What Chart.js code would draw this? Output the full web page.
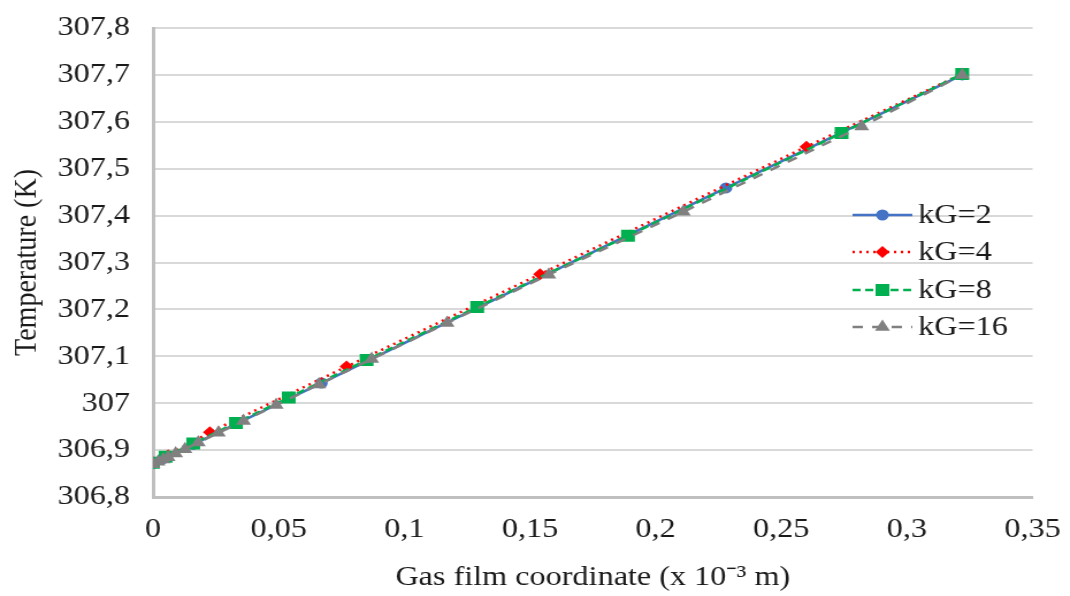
<!DOCTYPE html>
<html>
<head>
<meta charset="utf-8">
<script src="https://cdn.jsdelivr.net/npm/chart.js@4.4.1/dist/chart.umd.min.js"></script>
<style>
  html, body { margin: 0; padding: 0; background: #fff; overflow: hidden; }
  /* the chart is laid out narrow and widened, like the exported figure */
  #wrap { width: 930px; height: 596px; transform: scaleX(1.1505); transform-origin: 0 0; }
</style>
</head>
<body>
<div id="wrap"><canvas id="chart"></canvas></div>
<script>
// Temperature profile across the gas film for each kG
const LABELS = ['kG=2', 'kG=4', 'kG=8', 'kG=16'];

const X_KG2 = [0, 0.004, 0.016, 0.067, 0.228, 0.322];
const T_KG2 = [306.872, 306.882, 306.912, 307.043, 307.459, 307.700];

const X_KG4 = [0, 0.006, 0.0226, 0.077, 0.154, 0.26, 0.322];
const T_KG4 = [306.874, 306.889, 306.938, 307.078, 307.275, 307.547, 307.702];

const X_KG8 = [0, 0.005, 0.016, 0.033, 0.054, 0.085, 0.129, 0.189, 0.274, 0.322];
const T_KG8 = [306.873, 306.886, 306.914, 306.958, 307.012, 307.092, 307.205, 307.357, 307.576, 307.702];

const X_KG16 = [0, 0.002, 0.004, 0.006, 0.009, 0.0127, 0.018, 0.026, 0.036, 0.049, 0.066, 0.087, 0.117, 0.1575, 0.211, 0.282, 0.322];
const T_KG16 = [306.870, 306.875, 306.880, 306.885, 306.893, 306.902, 306.916, 306.937, 306.962, 306.996, 307.040, 307.094, 307.171, 307.274, 307.408, 307.590, 307.700];

const X_MIN = 0, X_MAX = 0.35, X_STEP = 0.05;
const Y_MIN = 306.8, Y_MAX = 307.8, Y_STEP = 0.1;

const FONT = '"Liberation Serif", "Times New Roman", serif';
const INK = '#1a1a1a';

function pts(xs, ys) { return xs.map((x, i) => ({ x: x, y: ys[i] })); }

// comma decimals, no trailing zeros (307 not 307,0)
function fmt(v) { return String(Number(v.toFixed(3))).replace('.', ','); }

function drawMarker(ctx, style, x, y, r, color) {
  ctx.fillStyle = color;
  ctx.beginPath();
  if (style === 'circle') {
    ctx.arc(x, y, r, 0, Math.PI * 2);
  } else if (style === 'rectRot') {
    ctx.moveTo(x, y - r); ctx.lineTo(x + r, y); ctx.lineTo(x, y + r); ctx.lineTo(x - r, y);
  } else if (style === 'rect') {
    const s = r * Math.SQRT1_2;
    ctx.rect(x - s, y - s, 2 * s, 2 * s);
  } else if (style === 'triangle') {
    const w = r * Math.sin(Math.PI / 3);
    ctx.moveTo(x, y - r); ctx.lineTo(x + w, y + r / 2); ctx.lineTo(x - w, y + r / 2);
  }
  ctx.closePath();
  ctx.fill();
}

// legend sits inside the plot, right side
const legendInside = {
  id: 'legendInside',
  afterDatasetsDraw(chart) {
    const ctx = chart.ctx;
    const rowY = [215, 252, 290, 327];
    const lineX0 = 741, lineX1 = 793, markX = 767, textX = 798;
    chart.data.datasets.forEach((ds, i) => {
      const y = rowY[i];
      ctx.save();
      ctx.strokeStyle = ds.borderColor;
      ctx.lineWidth = ds.borderWidth;
      ctx.setLineDash(ds.borderDash || []);
      ctx.beginPath();
      ctx.moveTo(lineX0, y);
      ctx.lineTo(lineX1, y);
      ctx.stroke();
      ctx.setLineDash([]);
      drawMarker(ctx, ds.pointStyle, markX, y, ds.pointRadius, ds.pointBackgroundColor);
      ctx.fillStyle = INK;
      ctx.font = '28px ' + FONT;
      ctx.textBaseline = 'middle';
      ctx.textAlign = 'left';
      ctx.fillText(ds.label, textX, y + 1);
      ctx.restore();
    });
  }
};

function series(label, xs, ys, color, dash, style, radius, order) {
  return {
    label: label,
    data: pts(xs, ys),
    showLine: true,
    borderColor: color,
    backgroundColor: color,
    borderWidth: 2.5,
    borderDash: dash,
    pointStyle: style,
    pointRadius: radius,
    pointHoverRadius: radius,
    pointBackgroundColor: color,
    pointBorderColor: color,
    pointBorderWidth: 0,
    order: order
  };
}

new Chart(document.getElementById('chart'), {
  type: 'scatter',
  data: {
    datasets: [
      series(LABELS[0], X_KG2, T_KG2, '#4472C4', [], 'circle', 5.5, 4),
      series(LABELS[1], X_KG4, T_KG4, '#FF0000', [2, 4], 'rectRot', 6, 3),
      series(LABELS[2], X_KG8, T_KG8, '#00B050', [7, 4], 'rect', 8.5, 2),
      series(LABELS[3], X_KG16, T_KG16, '#808080', [9, 8], 'triangle', 7.5, 1)
    ]
  },
  options: {
    responsive: true,
    maintainAspectRatio: false,
    animation: false,
    layout: { padding: { top: 28, right: 30, left: 0, bottom: 0 } },
    plugins: { legend: { display: false }, tooltip: { enabled: false } },
    scales: {
      x: {
        type: 'linear',
        min: X_MIN, max: X_MAX,
        afterFit: s => { s.height = 99; },
        ticks: { stepSize: X_STEP, callback: v => fmt(v), color: INK, font: { family: FONT, size: 28 }, padding: 8, maxRotation: 0 },
        grid: { display: false },
        border: { display: true, color: '#bfbfbf', width: 3 },
        title: { display: true, text: 'Gas film coordinate (x 10⁻³ m)', color: INK, font: { family: FONT, size: 28 }, padding: { top: 0, bottom: 2 } }
      },
      y: {
        min: Y_MIN, max: Y_MAX,
        // fixed axis width; top label may overhang the plot edge
        afterFit: s => { s.width = 133; s.paddingTop = 0; s.paddingBottom = 0; },
        ticks: { stepSize: Y_STEP, callback: v => fmt(v), color: INK, font: { family: FONT, size: 28 }, padding: 20 },
        grid: { color: '#d9d9d9', lineWidth: 2, drawTicks: false },
        border: { display: true, color: '#bfbfbf', width: 3 },
        title: { display: true, text: 'Temperature (K)', color: INK, font: { family: FONT, size: 28 }, padding: { top: 7, bottom: 0 } }
      }
    }
  },
  plugins: [legendInside]
});
</script>
</body>
</html>
